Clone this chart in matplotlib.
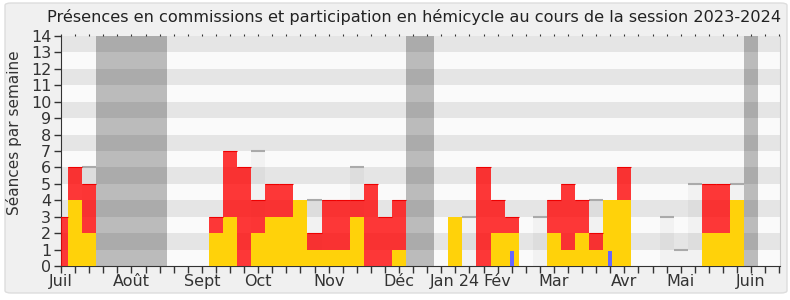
import numpy as np
import matplotlib
matplotlib.use("Agg")
from matplotlib import pyplot as plt
from matplotlib.patches import FancyBboxPatch

# one value per week, week 0 = start of July 2023
commission = [0, 4, 2, 0, 0, 0, 0, 0, 0, 0, 0, 2, 3, 0, 2, 3, 3, 4, 1, 1,
              1, 3, 0, 0, 1, 0, 0, 0, 3, 0, 0, 2, 2, 0, 0, 2, 1, 2, 1, 4,
              4, 0, 0, 0, 0, 0, 2, 2, 4, 0, 0, 0]
hemicycle = [3, 2, 3, 0, 0, 0, 0, 0, 0, 0, 0, 1, 4, 6, 2, 2, 2, 0, 1, 3,
             3, 1, 5, 3, 3, 0, 0, 0, 0, 0, 6, 2, 1, 0, 0, 2, 4, 2, 1, 0,
             2, 0, 0, 0, 0, 0, 3, 3, 0, 0, 0, 0]
questions = [0] * 52
questions[32] = 0.9
questions[39] = 0.9
median = [0, 0, 6, 0, 0, 0, 0, 0, 0, 0, 0, 0, 0, 0, 7, 0, 0, 0, 4, 0,
          0, 6, 0, 0, 0, 0, 0, 0, 0, 3, 0, 0, 0, 0, 3, 0, 0, 0, 4, 0,
          0, 0, 0, 3, 1, 5, 0, 0, 5, 0, 0, 0]
vacances = [(3, 7), (25, 26), (49, 49)]
month_weeks = [0, 5, 10, 14, 19, 24, 28, 31, 35, 40, 44, 49]
month_labels = ["Juil", "Août", "Sept", "Oct", "Nov", "Déc", "Jan 24",
                "Fév", "Mar", "Avr", "Mai", "Juin"]

plt.rcParams['font.family'] = ['DejaVu Sans']

fig = plt.figure(figsize=(7.9, 3.0), dpi=100, facecolor="white")
bg = FancyBboxPatch((5 / 790, 7 / 300), 782 / 790, 290 / 300,
                    boxstyle="round,pad=0,rounding_size=0.008",
                    transform=fig.transFigure, facecolor="#f0f0f0",
                    edgecolor="#dddddd", linewidth=1, zorder=-10)
fig.patches.append(bg)

ax = fig.add_axes([61 / 790, 34 / 300, 719 / 790, 230 / 300])
ax.set_facecolor("#fafafa")

weeks = np.arange(len(commission))
com = np.array(commission)
hem = np.array(hemicycle)

# vacances + bandes horizontales
for a, b in vacances:
    ax.axvspan(a - 0.5, b + 0.5, color="#bbbbbb", lw=0, zorder=0.5)
for y in range(1, 14, 2):
    ax.axhspan(y, y + 1, color="black", alpha=0.084, lw=0, zorder=1)

med = np.array(median)
ax.bar(weeks, med, width=1, color="black", alpha=0.03, lw=0, zorder=2)
ax.hlines(med[med > 0], weeks[med > 0] - 0.5, weeks[med > 0] + 0.5,
          color="#aaaaaa", lw=1.5, zorder=2)

ax.bar(weeks, com, width=1, color="#ffd20a", lw=0, zorder=3)
ax.bar(weeks, hem, width=1, bottom=com, color="#ff0000", alpha=0.78,
       lw=0, zorder=3)
top = com + hem
m = hem > 0
ax.hlines(top[m], weeks[m] - 0.5, weeks[m] + 0.5, color="#ee0000",
          lw=0.8, zorder=3)
ax.bar(weeks, questions, width=0.3, color="#6666ff", lw=0, zorder=4)

ax.set_xlim(0, 51.05)
ax.set_ylim(0, 14)
ax.set_yticks(range(15))
ax.set_xticks(month_weeks)
ax.set_xticklabels(month_labels)
ax.set_xticks(weeks, minor=True)
ax.tick_params(axis="both", which="both", colors="#333333", labelsize=11.5,
               length=5, width=1)
ax.tick_params(axis="x", which="both", pad=1, top=True, labeltop=False)
ax.tick_params(axis="y", pad=2)
# petits points en haut
for t in ax.xaxis.get_major_ticks() + ax.xaxis.get_minor_ticks():
    t.tick2line.set_markersize(1.2)
    t.tick2line.set_markeredgewidth(0.8)

ax.spines["top"].set_visible(False)
ax.spines["right"].set_color("#cccccc")
ax.spines["left"].set_color("#333333")
ax.spines["bottom"].set_color("#333333")

fig.text(414 / 790, 1 - 17 / 300, "Présences en commissions et participation en hémicycle au cours de la session 2023-2024",
         ha="center", va="center", fontsize=11.6, color="#222222")
fig.text(14 / 790, 1 - 133 / 300, "Séances par semaine", rotation=90,
         ha="center", va="center", fontsize=11, color="#333333")

fig.savefig("out.png", dpi=100, facecolor=fig.get_facecolor())
